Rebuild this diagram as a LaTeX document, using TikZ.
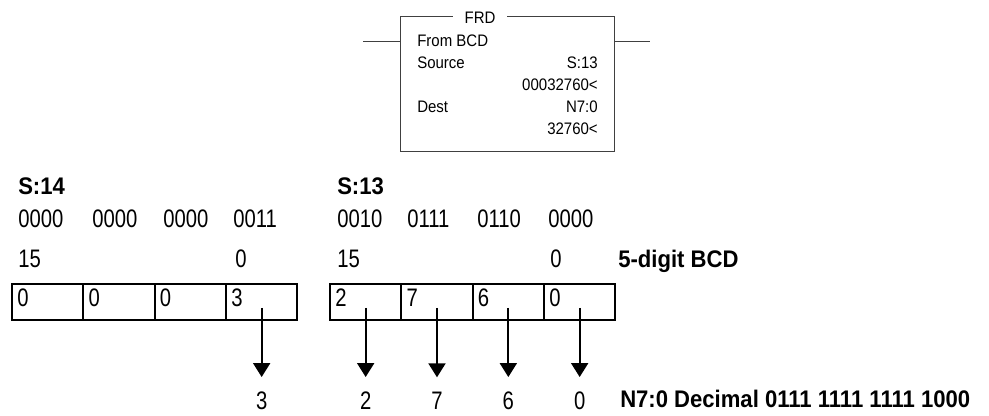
\documentclass[tikz,border=0pt]{standalone}
\usepackage{fontspec}
\setmainfont{Liberation Sans}[FakeStretch=0.8,BoldFeatures={FakeStretch=0.92}]
\newfontfamily\ladfont{Liberation Sans}[FakeStretch=0.9]
\usetikzlibrary{arrows.meta}

\begin{document}
\begin{tikzpicture}[x=0.75pt,y=-0.75pt,
    txt/.style={inner sep=0pt,font=\fontsize{19}{22}\selectfont},
    hdr/.style={inner sep=0pt,font=\fontsize{18}{22}\selectfont\bfseries},
    ladtxt/.style={inner sep=0pt,font=\ladfont\fontsize{12.5}{15}\selectfont},
    ladder/.style={draw=black!75,line width=0.75pt},
    cell/.style={draw,line width=1.5pt,minimum width=53.5pt,minimum height=27pt,
      inner sep=0pt,outer sep=0pt,anchor=north west},
    flow/.style={line width=1.5pt,-{Triangle[width=12.75pt,length=10.5pt]}}]
  \useasboundingbox (0,0) rectangle (989,416);

  % FRD instruction on the rung
  \node[ladder,minimum width=160.5pt,minimum height=101.25pt,inner sep=0pt] (frd) at (507,84.5) {};
  \node[ladtxt,fill=white,inner xsep=8.6pt,inner ysep=2pt] (frdname) at (480,18) {FRD};
  \coordinate (railL) at (363,42);
  \coordinate (railR) at (650,42);
  \draw[ladder] (railL) -- (railL -| frd.west);
  \draw[ladder] (frd.east |- railR) -- (railR);
  \node[ladtxt,anchor=base west] (frm) at (417,47) {From BCD};
  \node[ladtxt,anchor=base west] (src) at (417,69) {Source};
  \node[ladtxt,anchor=base east] (srcadr) at (598,69) {S:13};
  \node[ladtxt,anchor=base east] (srcval) at (598,91) {00032760<};
  \node[ladtxt,anchor=base west] (dst) at (417,113) {Dest};
  \node[ladtxt,anchor=base east] (dstadr) at (598,113) {N7:0};
  \node[ladtxt,anchor=base east] (dstval) at (598,135) {32760<};

  % source words
  \node[hdr,anchor=base west] (s14) at (18,195) {S:14};
  \node[hdr,anchor=base west] (s13) at (337,195) {S:13};
  \foreach \n/\x/\b in {1/18/0000,2/92/0000,3/163/0000,4/233/0011,
                        5/337/0010,6/407/0111,7/477/0110,8/548/0000}
    \node[txt,anchor=base west] (nib\n) at (\x,228) {\b};
  \node[txt,anchor=base west] (hi14) at (18,268) {15};
  \node[txt,anchor=base west] (lo14) at (235,268) {0};
  \node[txt,anchor=base west] (hi13) at (337,268) {15};
  \node[txt,anchor=base west] (lo13) at (550,268) {0};
  \node[hdr,anchor=base west] (bcd) at (618,268) {5-digit BCD};

  % BCD digits
  \foreach \i/\x/\d in {1/12/0,2/83.33/0,3/154.67/0,4/226/3,
                        5/330/2,6/401.33/7,7/472.67/6,8/544/0} {
    \node[cell] (c\i) at (\x,284) {};
    \node[txt,anchor=base west] (d\i) at (\x+5,307) {\d};
  }

  % decimal result
  \foreach \i/\v in {4/3,5/2,6/7,7/6,8/0} {
    \node[txt,anchor=base] (o\i) at (c\i.center |- 0,410) {\v};
    \draw[flow,shorten >=11.25pt] ([yshift=-4.5pt]c\i.center) -- (o\i);
  }
  \node[hdr,anchor=base west] (n70) at (620,408) {N7:0 Decimal 0111 1111 1111 1000};
\end{tikzpicture}
\end{document}
